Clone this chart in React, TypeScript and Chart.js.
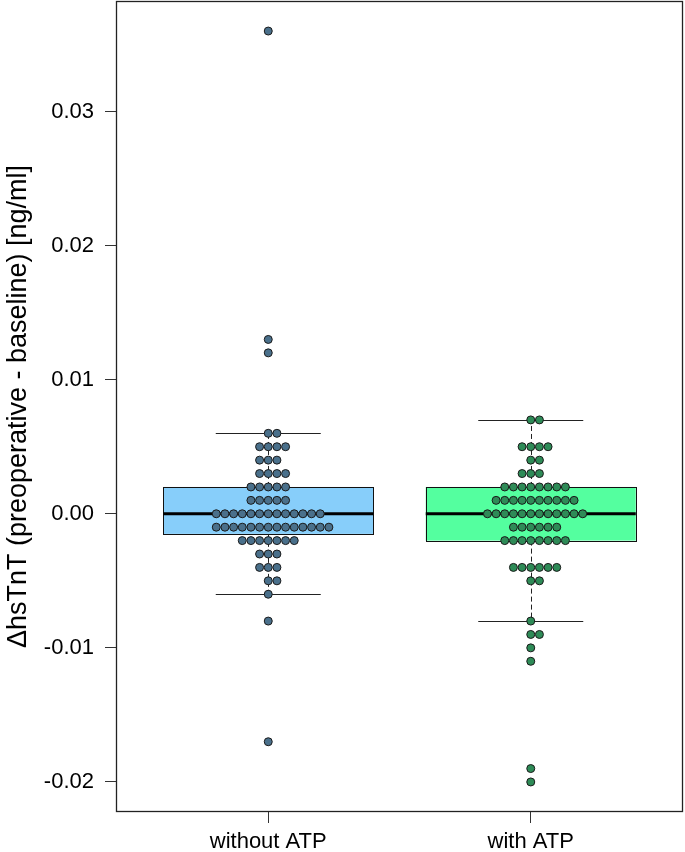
import React, { useEffect, useRef } from 'react';
import { Chart, registerables } from 'chart.js';

Chart.register(...registerables);

// ---- data ----
const categories = ['without ATP', 'with ATP'];

// distinct values and how many patients share each value
const withoutLevels = [0.036, 0.013, 0.012, 0.006, 0.005, 0.004, 0.003, 0.002, 0.001, 0.0, -0.001, -0.002, -0.003, -0.004, -0.005, -0.006, -0.008, -0.017];
const withoutCounts = [1, 1, 1, 2, 4, 3, 4, 5, 5, 13, 14, 7, 3, 3, 2, 1, 1, 1];

const withLevels = [0.007, 0.005, 0.004, 0.003, 0.002, 0.001, 0.0, -0.001, -0.002, -0.004, -0.005, -0.008, -0.009, -0.01, -0.011, -0.019, -0.02];
const withCounts = [2, 4, 2, 3, 8, 10, 12, 6, 8, 6, 2, 1, 2, 1, 1, 1, 1];

const yTicks = [-0.02, -0.01, 0.0, 0.01, 0.02, 0.03];
const yTitle = 'ΔhsTnT (preoperative - baseline) [ng/ml]';

// ---- styling ----
const boxFills = ['#87CEFA', '#54FF9F'];
const pointFills = ['#4A708B', '#2E8B57'];
const SWARM_STEP = 0.033; // horizontal spacing of swarm points (x units)
const FONT = '"Liberation Sans", Arial, Helvetica, sans-serif';

function expand(levels: number[], counts: number[]): number[] {
  const out: number[] = [];
  levels.forEach((v, i) => {
    for (let k = 0; k < counts[i]; k++) out.push(v);
  });
  return out;
}

function fivenum(arr: number[]) {
  const x = [...arr].sort((a, b) => a - b);
  const n = x.length;
  const n4 = Math.floor((n + 3) / 2) / 2;
  const d = [1, n4, (n + 1) / 2, n + 1 - n4, n];
  return d.map((v) => 0.5 * (x[Math.floor(v) - 1] + x[Math.ceil(v) - 1]));
}

function boxStats(arr: number[]) {
  const f = fivenum(arr);
  const q1 = f[1], med = f[2], q3 = f[3];
  const iqr = q3 - q1;
  const eps = 1e-12;
  const lowFence = q1 - 1.5 * iqr - eps;
  const highFence = q3 + 1.5 * iqr + eps;
  const inside = arr.filter((v) => v >= lowFence && v <= highFence);
  return { q1, med, q3, lower: Math.min(...inside), upper: Math.max(...inside) };
}

function swarm(levels: number[], counts: number[], center: number) {
  const pts: { x: number; y: number }[] = [];
  levels.forEach((v, i) => {
    const n = counts[i];
    const start = -Math.floor((n - 1) / 2);
    for (let k = 0; k < n; k++) {
      pts.push({ x: center + (start + k) * SWARM_STEP, y: v });
    }
  });
  return pts;
}

const groups = [
  { levels: withoutLevels, counts: withoutCounts },
  { levels: withLevels, counts: withCounts },
];

export default function App() {
  const canvasRef = useRef<HTMLCanvasElement | null>(null);

  useEffect(() => {
    document.body.style.margin = '0';
    const canvas = canvasRef.current;
    if (!canvas) return;

    const stats = groups.map((g) => boxStats(expand(g.levels, g.counts)));

    const boxPlugin = {
      id: 'boxPlugin',
      beforeDatasetsDraw(chart: any) {
        const { ctx } = chart;
        const xs = chart.scales.x;
        const ys = chart.scales.y;
        const line = (x1: number, y1: number, x2: number, y2: number) => {
          ctx.beginPath();
          ctx.moveTo(x1, y1);
          ctx.lineTo(x2, y2);
          ctx.stroke();
        };
        stats.forEach((s, i) => {
          const c = i + 1;
          const xl = xs.getPixelForValue(c - 0.4);
          const xr = xs.getPixelForValue(c + 0.4);
          const sl = xs.getPixelForValue(c - 0.2);
          const sr = xs.getPixelForValue(c + 0.2);
          const xc = Math.round(xs.getPixelForValue(c)) + 0.5;
          const yq1 = ys.getPixelForValue(s.q1);
          const yq3 = ys.getPixelForValue(s.q3);
          const ymed = ys.getPixelForValue(s.med);
          const ylo = Math.round(ys.getPixelForValue(s.lower)) + 0.5;
          const yhi = Math.round(ys.getPixelForValue(s.upper)) + 0.5;
          ctx.save();
          ctx.strokeStyle = '#222';
          ctx.lineWidth = 1;
          // dashed whiskers
          ctx.setLineDash([5, 3]);
          line(xc, yq3, xc, yhi);
          line(xc, yq1, xc, ylo);
          ctx.setLineDash([]);
          // staples
          line(sl, yhi, sr, yhi);
          line(sl, ylo, sr, ylo);
          // box
          ctx.fillStyle = boxFills[i];
          ctx.fillRect(xl, yq3, xr - xl, yq1 - yq3);
          ctx.strokeStyle = '#111';
          ctx.strokeRect(Math.round(xl) + 0.5, Math.round(yq3) + 0.5, Math.round(xr - xl), Math.round(yq1 - yq3));
          // median
          ctx.lineWidth = 3;
          ctx.strokeStyle = '#000';
          line(xl, ymed, xr, ymed);
          ctx.restore();
        });
      },
      afterDraw(chart: any) {
        const { ctx, chartArea } = chart;
        ctx.save();
        ctx.strokeStyle = '#222';
        ctx.lineWidth = 1.3;
        ctx.strokeRect(
          Math.round(chartArea.left) + 0.5,
          Math.round(chartArea.top) + 0.5,
          Math.round(chartArea.right - chartArea.left) - 1,
          Math.round(chartArea.bottom - chartArea.top) - 1
        );
        ctx.restore();
      },
    };

    const datasets = groups.map((g, i) => ({
      label: categories[i],
      data: swarm(g.levels, g.counts, i + 1),
      backgroundColor: pointFills[i],
      borderColor: '#1a1a1a',
      borderWidth: 1,
      pointRadius: 4,
      pointHoverRadius: 4,
      showLine: false,
    }));

    const zeroPad = (s: any) => {
      s.paddingTop = 0;
      s.paddingBottom = 0;
      s.paddingLeft = 0;
      s.paddingRight = 0;
    };

    const chart = new Chart(canvas, {
      type: 'scatter',
      data: { datasets },
      plugins: [boxPlugin],
      options: {
        animation: false,
        responsive: false,
        maintainAspectRatio: false,
        layout: { autoPadding: false, padding: { top: 1, right: 2, left: 0, bottom: 0 } },
        plugins: {
          legend: { display: false },
          tooltip: { enabled: false },
        },
        scales: {
          x: {
            type: 'linear',
            min: 0.42,
            max: 2.58,
            afterBuildTicks: (s: any) => {
              s.ticks = categories.map((_, i) => ({ value: i + 1 }));
            },
            afterFit: (s: any) => {
              s.height = 40;
              zeroPad(s);
            },
            ticks: {
              autoSkip: false,
              maxRotation: 0,
              color: '#000',
              padding: 6,
              font: { family: FONT, size: 22 },
              callback: (v: any) => categories[Math.round(Number(v)) - 1] ?? '',
            },
            grid: { drawOnChartArea: false, drawTicks: true, tickLength: 11, color: '#333' },
            border: { display: false },
          },
          y: {
            type: 'linear',
            min: -0.02224,
            max: 0.03824,
            afterBuildTicks: (s: any) => {
              s.ticks = yTicks.map((v) => ({ value: v }));
            },
            afterFit: (s: any) => {
              s.width = 116;
              zeroPad(s);
            },
            ticks: {
              autoSkip: false,
              color: '#000',
              padding: 11,
              font: { family: FONT, size: 22 },
              callback: (v: any) => Number(v).toFixed(2),
            },
            grid: { drawOnChartArea: false, drawTicks: true, tickLength: 11, color: '#333' },
            border: { display: false },
            title: {
              display: true,
              text: yTitle,
              color: '#000',
              font: { family: FONT, size: 27 },
              padding: { top: 2, bottom: 0 },
            },
          },
        },
      },
    });

    return () => chart.destroy();
  }, []);

  return (
    <div style={{ width: 685, height: 852 }}>
      <canvas ref={canvasRef} width={685} height={852} style={{ display: 'block', width: 685, height: 852 }} />
    </div>
  );
}
